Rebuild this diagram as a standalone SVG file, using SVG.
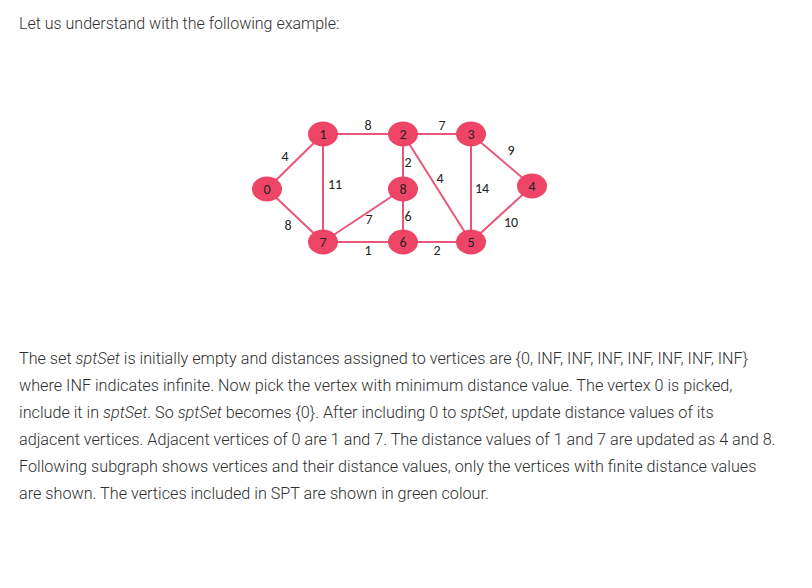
<svg xmlns="http://www.w3.org/2000/svg" width="812" height="588" viewBox="0 0 812 588">
  <style>
    .txt { font-family: Roboto, "Liberation Sans", sans-serif; font-size: 16.2px; font-weight: 300; fill: #2f2f2f; }
    .edge { stroke: #e8577a; stroke-width: 2; fill: none; }
    .node ellipse { fill: #ee4466; }
    .node text { font-family: Carlito, "Liberation Sans", sans-serif; font-size: 14px; fill: #222; text-anchor: middle; }
    .w { font-family: Carlito, "Liberation Sans", sans-serif; font-size: 14px; fill: #222; text-anchor: middle; }
  </style>
  <rect width="812" height="588" fill="#ffffff"/>

  <text class="txt" x="19" y="29" style="font-size:16px">Let us understand with the following example:</text>

  <!-- edges -->
  <g id="edges">
    <line class="edge" x1="267" y1="189" x2="323" y2="134"/>
    <line class="edge" x1="267" y1="189" x2="323" y2="242"/>
    <line class="edge" x1="323" y1="134" x2="403" y2="134"/>
    <line class="edge" x1="323" y1="134" x2="323" y2="242"/>
    <line class="edge" x1="403" y1="134" x2="471" y2="134"/>
    <line class="edge" x1="403" y1="134" x2="403" y2="189"/>
    <line class="edge" x1="403" y1="134" x2="471" y2="242"/>
    <line class="edge" x1="471" y1="134" x2="532" y2="186"/>
    <line class="edge" x1="471" y1="134" x2="471" y2="242"/>
    <line class="edge" x1="323" y1="242" x2="403" y2="189"/>
    <line class="edge" x1="403" y1="189" x2="403" y2="242"/>
    <line class="edge" x1="323" y1="242" x2="403" y2="242"/>
    <line class="edge" x1="403" y1="242" x2="471" y2="242"/>
    <line class="edge" x1="471" y1="242" x2="532" y2="186"/>
    <!-- weights -->
    <text class="w" x="285" y="161">4</text>
    <text class="w" x="288" y="230">8</text>
    <text class="w" x="368" y="130">8</text>
    <text class="w" x="335" y="189">11</text>
    <text class="w" x="442" y="130">7</text>
    <text class="w" x="408" y="167">2</text>
    <text class="w" x="440" y="183">4</text>
    <text class="w" x="511" y="155">9</text>
    <text class="w" x="482" y="193">14</text>
    <text class="w" x="369" y="224">7</text>
    <text class="w" x="408" y="221">6</text>
    <text class="w" x="511" y="227">10</text>
    <text class="w" x="368" y="255">1</text>
    <text class="w" x="437" y="255">2</text>
  </g>

  <!-- vertices -->
  <g id="n0" class="node"><ellipse cx="267" cy="189" rx="15" ry="12.5"/><text x="267" y="194">0</text></g>
  <g id="n1" class="node"><ellipse cx="323" cy="134" rx="15" ry="12.5"/><text x="323" y="139">1</text></g>
  <g id="n2" class="node"><ellipse cx="403" cy="134" rx="15" ry="12.5"/><text x="403" y="139">2</text></g>
  <g id="n3" class="node"><ellipse cx="471" cy="134" rx="15" ry="12.5"/><text x="471" y="139">3</text></g>
  <g id="n4" class="node"><ellipse cx="532" cy="186" rx="15" ry="12.5"/><text x="532" y="191">4</text></g>
  <g id="n5" class="node"><ellipse cx="471" cy="242" rx="15" ry="12.5"/><text x="471" y="247">5</text></g>
  <g id="n6" class="node"><ellipse cx="403" cy="242" rx="15" ry="12.5"/><text x="403" y="247">6</text></g>
  <g id="n7" class="node"><ellipse cx="323" cy="242" rx="15" ry="12.5"/><text x="323" y="247">7</text></g>
  <g id="n8" class="node"><ellipse cx="403" cy="189" rx="15" ry="12.5"/><text x="403" y="194">8</text></g>

  <g class="txt">
    <text x="19" y="364">The set <tspan font-style="italic">sptSet</tspan> is initially empty and distances assigned to vertices are {0, INF, INF, INF, INF, INF, INF, INF}</text>
    <text x="19" y="391">where INF indicates infinite. Now pick the vertex with minimum distance value. The vertex 0 is picked,</text>
    <text x="19" y="418">include it in <tspan font-style="italic">sptSet</tspan>. So <tspan font-style="italic">sptSet</tspan> becomes {0}. After including 0 to <tspan font-style="italic">sptSet</tspan>, update distance values of its</text>
    <text x="19" y="445">adjacent vertices. Adjacent vertices of 0 are 1 and 7. The distance values of 1 and 7 are updated as 4 and 8.</text>
    <text x="19" y="472">Following subgraph shows vertices and their distance values, only the vertices with finite distance values</text>
    <text x="19" y="499">are shown. The vertices included in SPT are shown in green colour.</text>
  </g>
</svg>
